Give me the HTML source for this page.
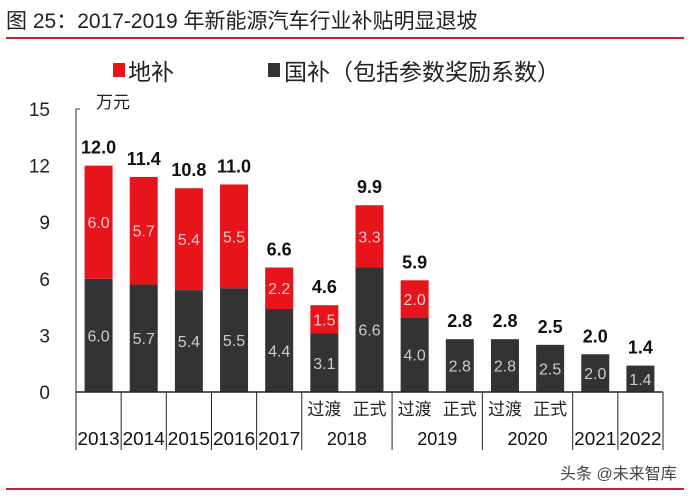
<!DOCTYPE html>
<html><head><meta charset="utf-8"><style>
body{margin:0;background:#fff;}
svg text{font-family:"Liberation Sans","Noto Sans CJK SC",sans-serif;}
</style></head><body>
<svg id="c" width="700" height="497" xmlns="http://www.w3.org/2000/svg">
<text x="6" y="28" font-size="21" fill="#222">图 25：2017-2019 年新能源汽车行业补贴明显退坡</text>
<line x1="6" y1="38" x2="684" y2="38" stroke="#c0282e" stroke-width="2"/>
<rect x="113" y="63" width="12" height="14" fill="#e8141c"/>
<text x="128" y="80" font-size="23" fill="#222">地补</text>
<rect x="268" y="63" width="12" height="14" fill="#333"/>
<text x="284" y="80" font-size="23" fill="#222">国补（包括参数奖励系数）</text>
<text x="96" y="108" font-size="17" fill="#222">万元</text>
<g id="plot"></g>
<line x1="6" y1="489" x2="684" y2="489" stroke="#c0282e" stroke-width="2"/>
<text x="560" y="479" font-size="16" fill="#444">头条 @未来智库</text>
</svg>
<script>
const categories=["2013","2014","2015","2016","2017","过渡","正式","过渡","正式","过渡","正式","2021","2022"];
const localSub=[6.0,5.7,5.4,5.5,2.2,1.5,3.3,1.96,0,0,0,0,0];
const nationalSub=[6.0,5.7,5.4,5.5,4.4,3.1,6.6,3.96,2.8,2.8,2.5,2.0,1.4];
const yTicks=[0,3,6,9,12,15];
const groupYears=["2018","2019","2020"];
const NS="http://www.w3.org/2000/svg";
const g=document.getElementById('plot');
const x0=76,x1=663,yb=392,yt=109,n=categories.length,sw=(x1-x0)/n,bw=28;
const y=v=>yb-(v/15)*(yb-yt);
const xc=i=>x0+sw*(i+0.5);
function mk(t,a){const e=document.createElementNS(NS,t);for(const k in a)e.setAttribute(k,a[k]);g.appendChild(e);return e;}
yTicks.forEach(v=>{const t=mk('text',{x:50,y:y(v)+7,'font-size':19,fill:'#222','text-anchor':'end'});t.textContent=v;

});
const ya=mk('path',{d:`M${x0+4} ${yt} H${x0} V${yb}`,stroke:'#333',fill:'none','stroke-width':1});


categories.forEach((c,i)=>{
 const cx=xc(i),n_=nationalSub[i],l=localSub[i];
 const r1=mk('rect',{x:cx-bw/2,y:y(n_),width:bw,height:yb-y(n_),fill:'#333'});
 
 
 const t1=mk('text',{x:cx,y:(y(n_)+yb)/2+6,'font-size':16,fill:'#ccc','text-anchor':'middle'});t1.textContent=n_.toFixed(1);
 
 
 if(l>0){const r2=mk('rect',{x:cx-bw/2,y:y(n_+l),width:bw,height:y(n_)-y(n_+l),fill:'#e8141c'});
 
 
 const t2=mk('text',{x:cx,y:(y(n_)+y(n_+l))/2+6,'font-size':16,fill:'#f3c9c9','text-anchor':'middle'});t2.textContent=l.toFixed(1);
 
 }
 const tot=mk('text',{x:cx,y:y(n_+l)-12,'font-size':18,'font-weight':'bold',fill:'#111','text-anchor':'middle'});tot.textContent=(n_+l).toFixed(1);
 
 
 if(i>=5&&i<=10){const s=mk('text',{x:cx,y:415,'font-size':17,fill:'#222','text-anchor':'middle'});s.textContent=c;
 
 }
 else{const s=mk('text',{x:cx,y:445,'font-size':18,fill:'#111','text-anchor':'middle',textLength:sw-3,lengthAdjust:'spacingAndGlyphs'});s.textContent=c;
 
 }
});
groupYears.forEach((yr,k)=>{const cx=x0+sw*(5+2*k+1);const t=mk('text',{x:cx,y:445,'font-size':18,fill:'#111','text-anchor':'middle'});t.textContent=yr;

});
const xa=mk('line',{x1:x0,y1:yb,x2:x1,y2:yb,stroke:'#222','stroke-width':1.5});


[0,1,2,3,4,5,7,9,11,12,13].forEach(b=>{const xx=x0+sw*b;const l=mk('line',{x1:xx,y1:yb,x2:xx,y2:450,stroke:'#222','stroke-width':1});

});
</script>
</body></html>
